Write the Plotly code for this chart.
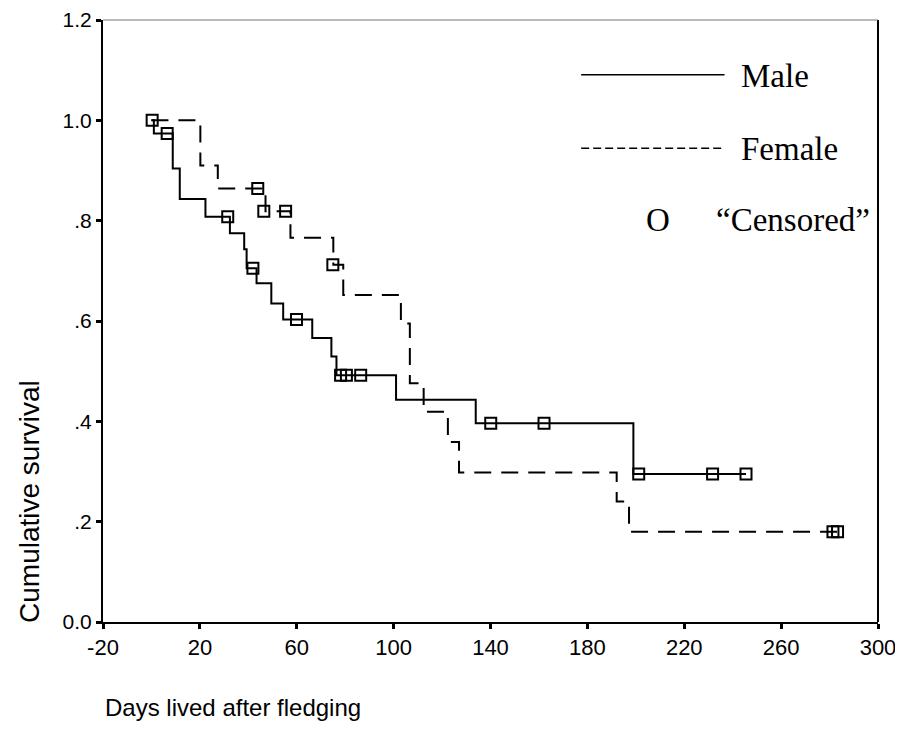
import plotly.graph_objects as go

# Kaplan-Meier steps (day the step starts, survival after it)
male_days = [0, 1, 8.8, 11.7, 22.3, 32.4, 38.3, 39.3, 43.4, 49.5, 54.4, 66.4, 74.3, 76.4, 101, 133.9, 199, 245.5]
male_surv = [1.0, 0.974, 0.904, 0.843, 0.808, 0.775, 0.743, 0.705, 0.675, 0.635, 0.603, 0.566, 0.529, 0.492, 0.443, 0.396, 0.295, 0.295]

female_days = [0, 20.2, 27.4, 47.1, 57.4, 75.1, 79.2, 103, 106.7, 112.4, 122.4, 127, 192.1, 197.2, 283.3]
female_surv = [1.0, 0.91, 0.864, 0.819, 0.766, 0.712, 0.652, 0.595, 0.476, 0.419, 0.359, 0.298, 0.24, 0.18, 0.18]

# censored observations
male_cens_days = [0.3, 6.5, 31.5, 41.9, 59.9, 78.1, 80.5, 86.4, 140.1, 162.1, 201.2, 231.7, 245.5]
male_cens_surv = [1.0, 0.974, 0.808, 0.705, 0.603, 0.492, 0.492, 0.492, 0.396, 0.396, 0.295, 0.295, 0.295]
female_cens_days = [43.9, 46.4, 55.4, 74.9, 281.4, 283.3]
female_cens_surv = [0.864, 0.819, 0.819, 0.712, 0.18, 0.18]

x_ticks = [-20, 20, 60, 100, 140, 180, 220, 260, 300]
x_labels = ['-20', '20', '60', '100', '140', '180', '220', '260', '300']
y_ticks = [0, 0.2, 0.4, 0.6, 0.8, 1.0, 1.2]
y_labels = ['0.0', '.2', '.4', '.6', '.8', '1.0', '1.2']

marker_style = dict(symbol='square-open', size=11, color='black', line=dict(width=2, color='black'))

fig = go.Figure()
fig.add_trace(go.Scatter(x=male_days, y=male_surv, mode='lines', line_shape='hv',
                         line=dict(color='black', width=2), name='Male'))
fig.add_trace(go.Scatter(x=female_days, y=female_surv, mode='lines', line_shape='hv',
                         line=dict(color='black', width=2, dash='17px,10px'), name='Female'))
fig.add_trace(go.Scatter(x=male_cens_days, y=male_cens_surv, mode='markers', marker=marker_style))
fig.add_trace(go.Scatter(x=female_cens_days, y=female_cens_surv, mode='markers', marker=marker_style))

# hand-made legend inside the plot
leg_font = dict(family='Liberation Serif, Times New Roman, serif', size=33, color='black')
fig.add_shape(type='line', xref='paper', yref='paper', x0=0.617, x1=0.802, y0=0.909, y1=0.909,
              line=dict(color='black', width=1.5))
fig.add_shape(type='line', xref='paper', yref='paper', x0=0.617, x1=0.802, y0=0.787, y1=0.787,
              line=dict(color='black', width=1.5, dash='8px,4px'))
fig.add_annotation(xref='paper', yref='paper', x=0.82, y=0.907, text='Male', showarrow=False,
                   xanchor='left', yanchor='middle', font=leg_font)
fig.add_annotation(xref='paper', yref='paper', x=0.82, y=0.785, text='Female', showarrow=False,
                   xanchor='left', yanchor='middle', font=leg_font)
fig.add_annotation(xref='paper', yref='paper', x=0.716, y=0.668, text='O', showarrow=False,
                   xanchor='center', yanchor='middle', font=leg_font)
fig.add_annotation(xref='paper', yref='paper', x=0.789, y=0.668, text='\u201cCensored\u201d', showarrow=False,
                   xanchor='left', yanchor='middle', font=leg_font)

# box: right and top edges
fig.add_shape(type='line', xref='paper', yref='paper', x0=1, x1=1, y0=0, y1=1,
              line=dict(color='black', width=2))
fig.add_shape(type='line', xref='paper', yref='paper', x0=0, x1=1, y0=1, y1=1,
              line=dict(color='#777', width=1))

# axis titles
fig.add_annotation(xref='paper', yref='paper', x=-0.095, y=0.2, text='Cumulative survival',
                   textangle=-90, showarrow=False, xanchor='center', yanchor='middle',
                   font=dict(family='Liberation Sans, Arial', size=28, color='black'))
fig.add_annotation(xref='paper', yref='paper', x=0.0, y=-0.142, text='Days lived after fledging',
                   showarrow=False, xanchor='left', yanchor='middle',
                   font=dict(family='Liberation Sans, Arial', size=24, color='black'))

fig.update_layout(
    width=895, height=724,
    margin=dict(l=95, r=25, t=12, b=110),
    plot_bgcolor='white', paper_bgcolor='white',
    showlegend=False,
    xaxis=dict(range=[-20, 300], tickvals=x_ticks, ticktext=x_labels, showgrid=False, zeroline=False,
               showline=True, linecolor='black', linewidth=2, automargin=False,
               ticks='outside', ticklen=5, tickwidth=3, tickcolor='black',
               tickfont=dict(family='Liberation Sans Narrow, Arial Narrow, Liberation Sans', size=22, color='black')),
    yaxis=dict(range=[0, 1.2], tickvals=y_ticks, ticktext=y_labels, showgrid=False, zeroline=False,
               showline=True, linecolor='black', linewidth=2, automargin=False,
               ticks='outside', ticklen=5, tickwidth=3, tickcolor='black',
               tickfont=dict(family='Liberation Sans, Arial', size=21, color='black')),
)

fig.write_html("out.html")
